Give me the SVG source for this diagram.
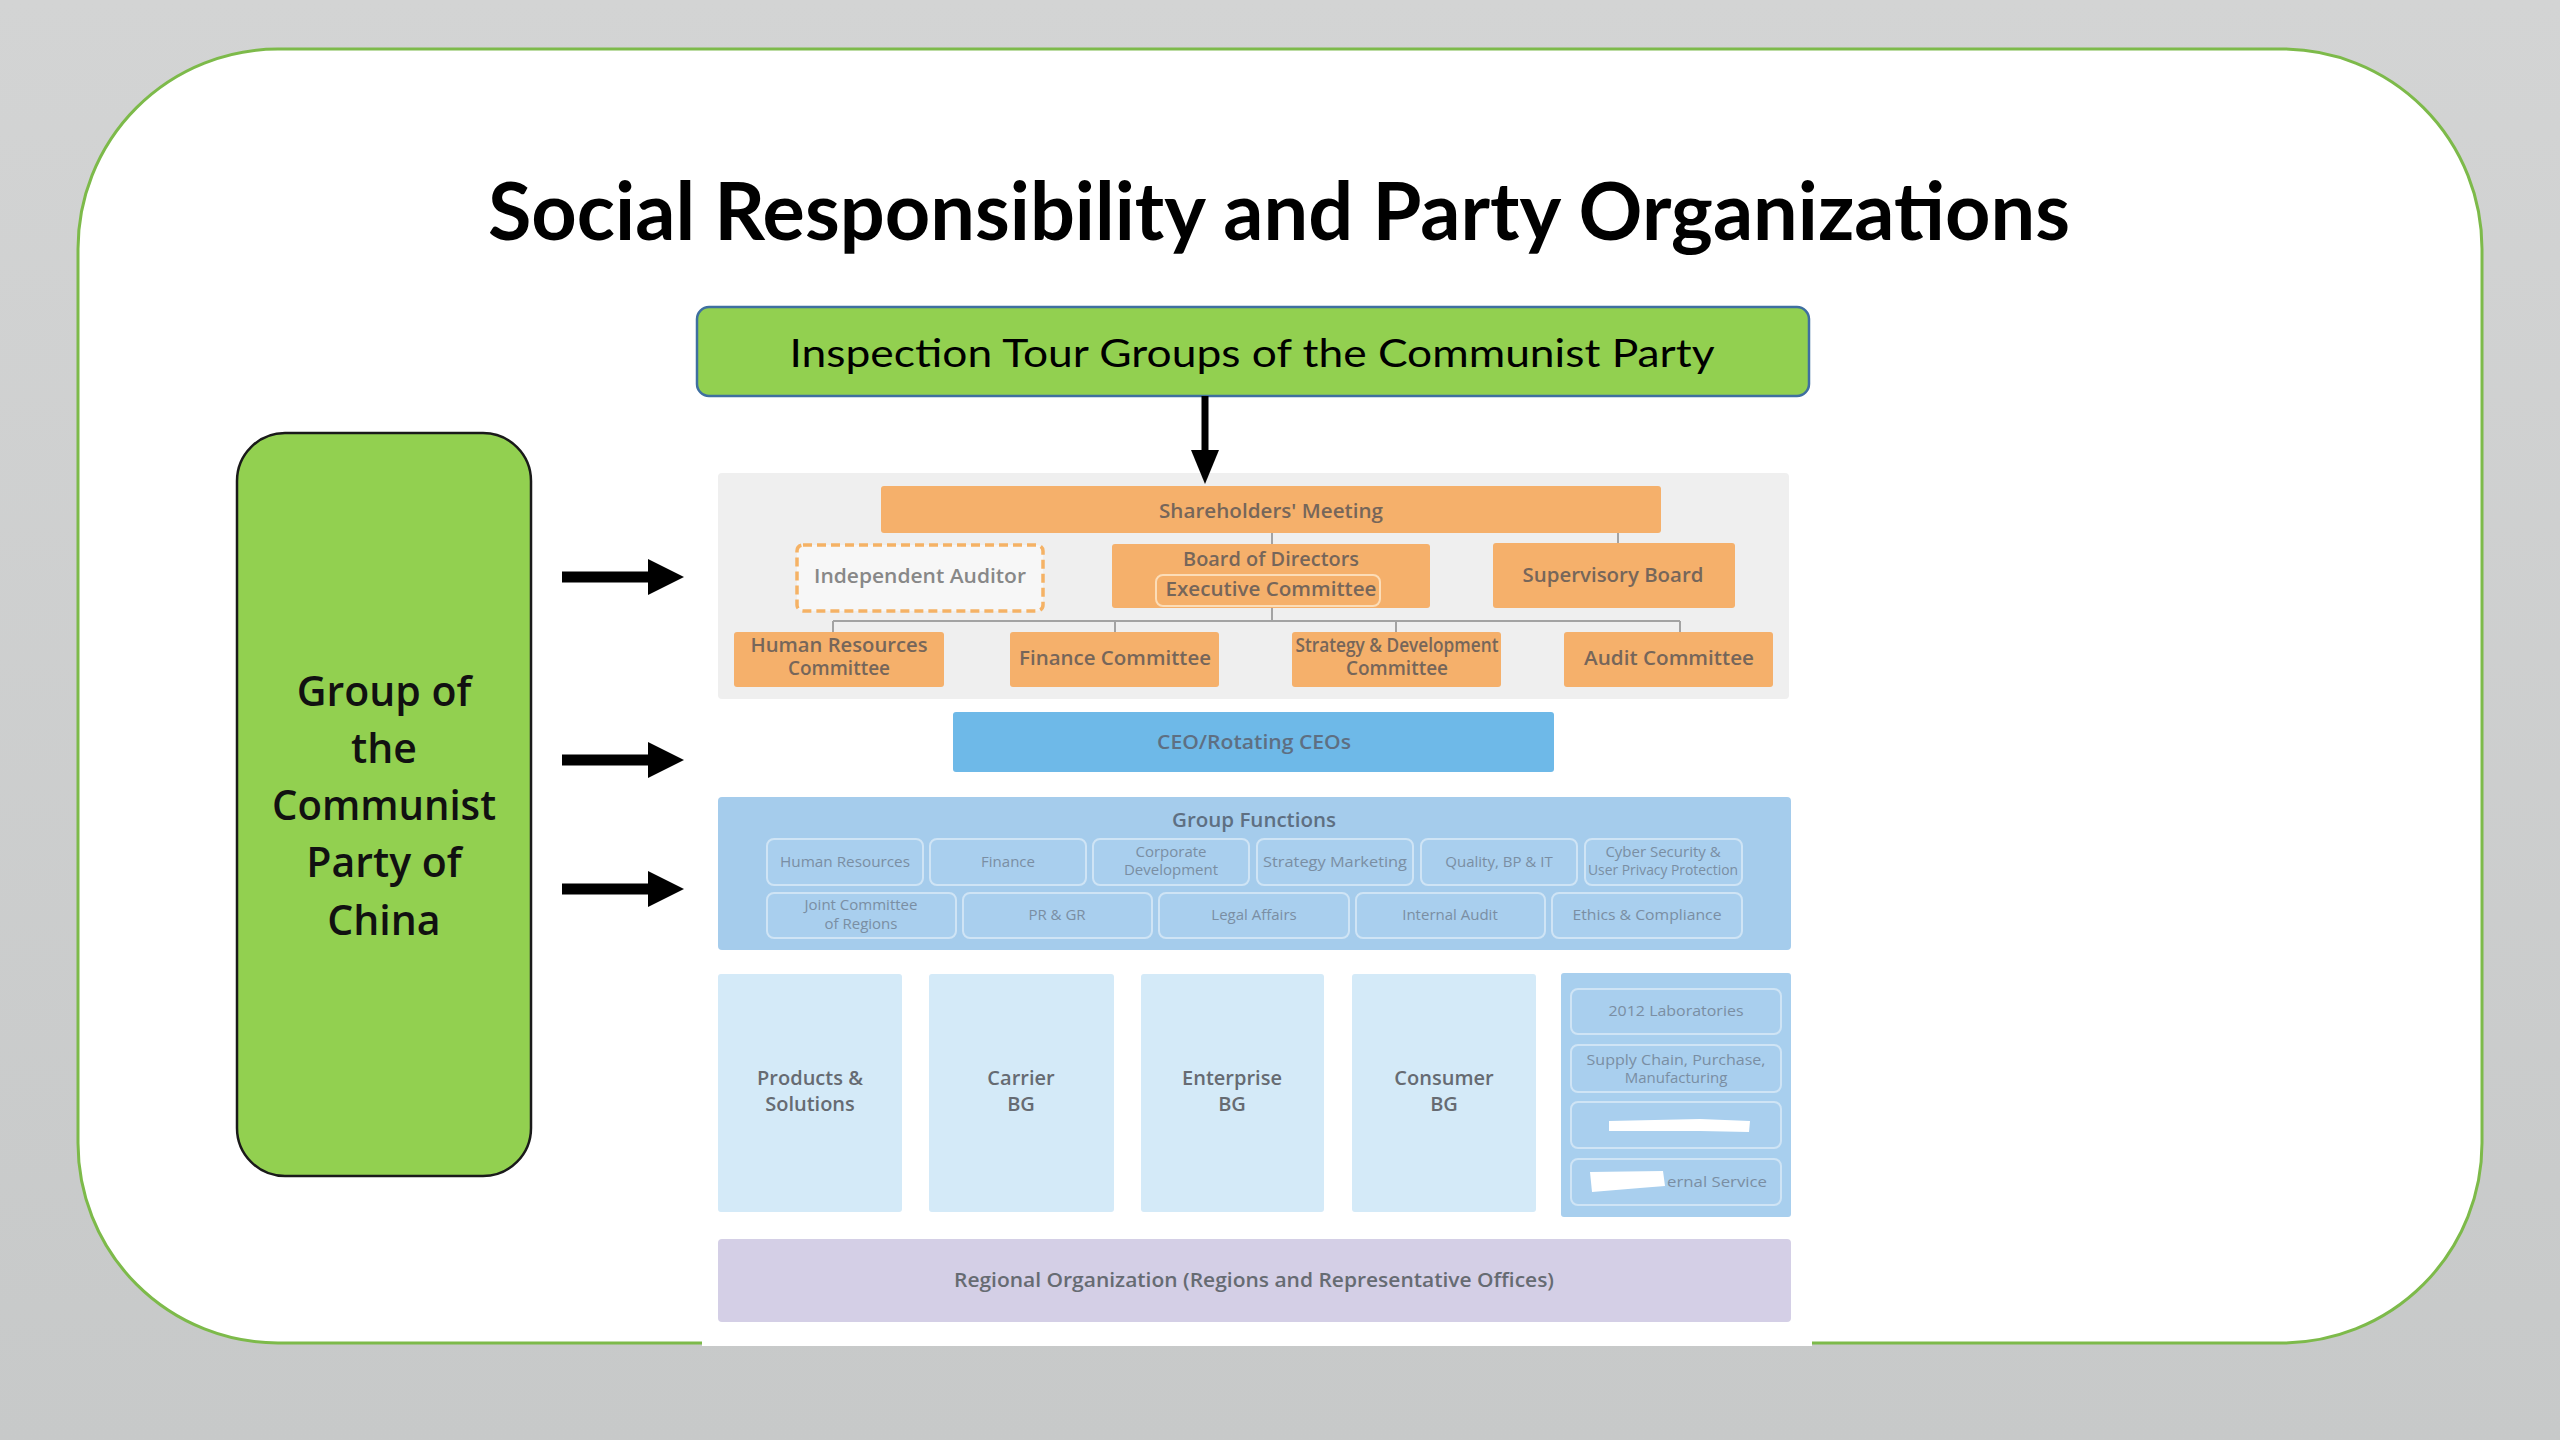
<svg xmlns="http://www.w3.org/2000/svg" width="2560" height="1440" viewBox="0 0 2560 1440">
<defs>
  <linearGradient id="bg" x1="0" y1="0" x2="0" y2="1">
    <stop offset="0" stop-color="#d3d4d4"/>
    <stop offset="1" stop-color="#c7c9c9"/>
  </linearGradient>
  <marker id="headBig" markerUnits="userSpaceOnUse" viewBox="0 0 36 36" markerWidth="36" markerHeight="36" refX="0" refY="18" orient="auto">
    <path d="M0,0 L36,18 L0,36 Z" fill="#000"/>
  </marker>
  <marker id="headDown" markerUnits="userSpaceOnUse" viewBox="0 0 34 28" markerWidth="34" markerHeight="28" refX="0" refY="14" orient="auto">
    <path d="M0,0 L34,14 L0,28 Z" fill="#000"/>
  </marker>
  <style>
    .org { fill: #F5B06B; }
    .otxt { font-family: "Open Sans", "Noto Sans", sans-serif; font-weight: 600; font-size: 19px; fill: #76665a; text-anchor: middle; }
    .gtxt { font-family: "Open Sans", "Noto Sans", sans-serif; font-weight: 600; font-size: 20px; fill: #888888; text-anchor: middle; }
    .btxt { font-family: "Open Sans", "Noto Sans", sans-serif; font-weight: 600; font-size: 19px; fill: #5e6f82; text-anchor: middle; }
    .ftxt { font-family: "Open Sans", "Noto Sans", sans-serif; font-weight: 400; font-size: 15px; fill: #7a8ea3; text-anchor: middle; }
    .fbox { fill: #A9CFEE; stroke: #cfe4f5; stroke-width: 2; }
    .bg { fill: #D4EAF8; }
    .bgtxt { font-family: "Open Sans", "Noto Sans", sans-serif; font-weight: 600; font-size: 20px; fill: #666b72; text-anchor: middle; }
    .conn { stroke: #a3a3a3; stroke-width: 2; fill: none; }
    .arrow { stroke: #000; fill: none; }
    .party { font-family: "Open Sans", "Noto Sans", sans-serif; font-weight: 600; font-size: 41px; fill: #111; text-anchor: middle; }
  </style>
</defs>

<rect x="0" y="0" width="2560" height="1440" fill="url(#bg)"/>
<rect id="card" x="78" y="49" width="2404" height="1294" rx="200" ry="200" fill="#ffffff" stroke="#7DBA4A" stroke-width="3"/>

<text id="title" x="1279" y="240" font-family="Lato, 'Open Sans', sans-serif" font-weight="700" font-size="80" text-anchor="middle" textLength="1582" lengthAdjust="spacingAndGlyphs" fill="#000">Social Responsibility and Party Organizations</text>

<rect id="chart-bg" x="702" y="460" width="1110" height="886" fill="#ffffff"/>

<g id="inspection">
  <rect x="697" y="307" width="1112" height="89" rx="12" fill="#92D050" stroke="#3F6FA0" stroke-width="2.5"/>
  <text x="1252" y="367" font-family="Lato, 'Open Sans', sans-serif" font-size="39" text-anchor="middle" textLength="925" lengthAdjust="spacingAndGlyphs" fill="#000">Inspection Tour Groups of the Communist Party</text>
</g>

<g id="party-group">
  <rect x="237" y="433" width="294" height="743" rx="48" fill="#92D050" stroke="#1a1a1a" stroke-width="2.5"/>
  <text class="party" x="384" y="706">Group of</text>
  <text class="party" x="384" y="763">the</text>
  <text class="party" x="384" y="820" textLength="224" lengthAdjust="spacingAndGlyphs">Communist</text>
  <text class="party" x="384" y="877">Party of</text>
  <text class="party" x="384" y="935">China</text>
</g>

<g id="governance">
  <rect x="718" y="473" width="1071" height="226" rx="4" fill="#EFEFEF"/>
</g>

<g id="shareholders">
  <rect class="org" x="881" y="486" width="780" height="47" rx="3"/>
  <text class="otxt" x="1271" y="518" textLength="224" lengthAdjust="spacingAndGlyphs">Shareholders' Meeting</text>
</g>
<g id="independent-auditor">
  <rect x="797" y="545" width="246" height="66" rx="6" fill="#F7F7F7" stroke="#F5B265" stroke-width="3.5" stroke-dasharray="9 5"/>
  <text class="gtxt" x="920" y="583" textLength="212" lengthAdjust="spacingAndGlyphs">Independent Auditor</text>
</g>
<g id="board">
  <rect class="org" x="1112" y="544" width="318" height="64" rx="3"/>
  <text class="otxt" x="1271" y="566" textLength="176" lengthAdjust="spacingAndGlyphs">Board of Directors</text>
  <rect x="1156" y="575" width="224" height="31" rx="7" fill="#F5B06B" stroke="#FCDDB8" stroke-width="2"/>
  <text class="otxt" x="1271" y="596" textLength="211" lengthAdjust="spacingAndGlyphs">Executive Committee</text>
</g>
<g id="supervisory">
  <rect class="org" x="1493" y="543" width="242" height="65" rx="3"/>
  <text class="otxt" x="1613" y="582" textLength="181" lengthAdjust="spacingAndGlyphs">Supervisory Board</text>
</g>
<g id="hr-committee">
  <rect class="org" x="734" y="632" width="210" height="55" rx="3"/>
  <text class="otxt" x="839" y="652" textLength="177" lengthAdjust="spacingAndGlyphs">Human Resources</text>
  <text class="otxt" x="839" y="675">Committee</text>
</g>
<g id="finance-committee">
  <rect class="org" x="1010" y="632" width="209" height="55" rx="3"/>
  <text class="otxt" x="1115" y="665" textLength="192" lengthAdjust="spacingAndGlyphs">Finance Committee</text>
</g>
<g id="strategy-committee">
  <rect class="org" x="1292" y="632" width="209" height="55" rx="3"/>
  <text class="otxt" x="1397" y="652" font-size="17" textLength="203" lengthAdjust="spacingAndGlyphs">Strategy &amp; Development</text>
  <text class="otxt" x="1397" y="675" font-size="17">Committee</text>
</g>
<g id="audit-committee">
  <rect class="org" x="1564" y="632" width="209" height="55" rx="3"/>
  <text class="otxt" x="1669" y="665" textLength="170" lengthAdjust="spacingAndGlyphs">Audit Committee</text>
</g>

<g id="ceo">
  <rect x="953" y="712" width="601" height="60" rx="3" fill="#6EB9E8"/>
  <text class="btxt" x="1254" y="749" textLength="194" lengthAdjust="spacingAndGlyphs">CEO/Rotating CEOs</text>
</g>

<g id="group-functions">
  <rect x="718" y="797" width="1073" height="153" rx="4" fill="#A5CCEC"/>
  <text class="btxt" x="1254" y="827" fill="#6e7f92" textLength="164" lengthAdjust="spacingAndGlyphs">Group Functions</text>
  <rect class="fbox" x="767" y="839" width="156" height="46" rx="7"/>
  <text class="ftxt" x="845" y="867" textLength="130" lengthAdjust="spacingAndGlyphs">Human Resources</text>
  <rect class="fbox" x="930" y="839" width="156" height="46" rx="7"/>
  <text class="ftxt" x="1008" y="867">Finance</text>
  <rect class="fbox" x="1093" y="839" width="156" height="46" rx="7"/>
  <text class="ftxt" x="1171" y="857">Corporate</text>
  <text class="ftxt" x="1171" y="875">Development</text>
  <rect class="fbox" x="1257" y="839" width="156" height="46" rx="7"/>
  <text class="ftxt" x="1335" y="867" textLength="144" lengthAdjust="spacingAndGlyphs">Strategy Marketing</text>
  <rect class="fbox" x="1421" y="839" width="156" height="46" rx="7"/>
  <text class="ftxt" x="1499" y="867">Quality, BP &amp; IT</text>
  <rect class="fbox" x="1585" y="839" width="157" height="46" rx="7"/>
  <text class="ftxt" x="1663" y="857" font-size="14">Cyber Security &amp;</text>
  <text class="ftxt" x="1663" y="875" font-size="14" textLength="150" lengthAdjust="spacingAndGlyphs">User Privacy Protection</text>
  <rect class="fbox" x="767" y="893" width="189" height="45" rx="7"/>
  <text class="ftxt" x="861" y="910">Joint Committee</text>
  <text class="ftxt" x="861" y="929">of Regions</text>
  <rect class="fbox" x="963" y="893" width="189" height="45" rx="7"/>
  <text class="ftxt" x="1057" y="920">PR &amp; GR</text>
  <rect class="fbox" x="1159" y="893" width="190" height="45" rx="7"/>
  <text class="ftxt" x="1254" y="920">Legal Affairs</text>
  <rect class="fbox" x="1356" y="893" width="189" height="45" rx="7"/>
  <text class="ftxt" x="1450" y="920">Internal Audit</text>
  <rect class="fbox" x="1552" y="893" width="190" height="45" rx="7"/>
  <text class="ftxt" x="1647" y="920" textLength="149" lengthAdjust="spacingAndGlyphs">Ethics &amp; Compliance</text>
</g>

<g id="products-solutions">
  <rect class="bg" x="718" y="974" width="184" height="238" rx="3"/>
  <text class="bgtxt" x="810" y="1085">Products &amp;</text>
  <text class="bgtxt" x="810" y="1111">Solutions</text>
</g>
<g id="carrier-bg">
  <rect class="bg" x="929" y="974" width="185" height="238" rx="3"/>
  <text class="bgtxt" x="1021" y="1085">Carrier</text>
  <text class="bgtxt" x="1021" y="1111">BG</text>
</g>
<g id="enterprise-bg">
  <rect class="bg" x="1141" y="974" width="183" height="238" rx="3"/>
  <text class="bgtxt" x="1232" y="1085">Enterprise</text>
  <text class="bgtxt" x="1232" y="1111">BG</text>
</g>
<g id="consumer-bg">
  <rect class="bg" x="1352" y="974" width="184" height="238" rx="3"/>
  <text class="bgtxt" x="1444" y="1085">Consumer</text>
  <text class="bgtxt" x="1444" y="1111">BG</text>
</g>
<g id="platforms">
  <rect x="1561" y="973" width="230" height="244" rx="3" fill="#A8CFEE"/>
  <rect class="fbox" x="1571" y="989" width="210" height="45" rx="7"/>
  <text class="ftxt" x="1676" y="1016" fill="#6f8399" textLength="135" lengthAdjust="spacingAndGlyphs">2012 Laboratories</text>
  <rect class="fbox" x="1571" y="1045" width="210" height="47" rx="7"/>
  <text class="ftxt" x="1676" y="1065" fill="#6f8399" textLength="179" lengthAdjust="spacingAndGlyphs">Supply Chain, Purchase,</text>
  <text class="ftxt" x="1676" y="1083" fill="#6f8399">Manufacturing</text>
  <rect class="fbox" x="1571" y="1102" width="210" height="46" rx="7"/>
  <path d="M1609,1121 L1700,1119 L1750,1121 L1749,1132 L1700,1131 L1609,1131 Z" fill="#ffffff"/>
  <rect class="fbox" x="1571" y="1159" width="210" height="46" rx="7"/>
  <text class="ftxt" x="1767" y="1187" fill="#6f8399" style="text-anchor:end" textLength="100" lengthAdjust="spacingAndGlyphs">ernal Service</text>
  <path d="M1590,1172 L1663,1171 L1665,1186 L1640,1188 L1592,1192 Z" fill="#ffffff"/>
</g>

<g id="regional">
  <rect x="718" y="1239" width="1073" height="83" rx="4" fill="#D4CFE6"/>
  <text class="bgtxt" x="1254" y="1287" fill="#6a6474" textLength="600" lengthAdjust="spacingAndGlyphs">Regional Organization (Regions and Representative Offices)</text>
</g>

<g id="connectors">
  <path class="conn" d="M1272,533 V544 M1618,533 V543 M1272,608 V621 M833,621 H1680 M833,621 V632 M1115,621 V632 M1396,621 V632 M1680,621 V632"/>
  <line class="arrow" x1="1205" y1="396" x2="1205" y2="450" stroke-width="7" marker-end="url(#headDown)"/>
  <line class="arrow" x1="562" y1="577" x2="648" y2="577" stroke-width="11" marker-end="url(#headBig)"/>
  <line class="arrow" x1="562" y1="760" x2="648" y2="760" stroke-width="11" marker-end="url(#headBig)"/>
  <line class="arrow" x1="562" y1="889" x2="648" y2="889" stroke-width="11" marker-end="url(#headBig)"/>
</g>
</svg>
